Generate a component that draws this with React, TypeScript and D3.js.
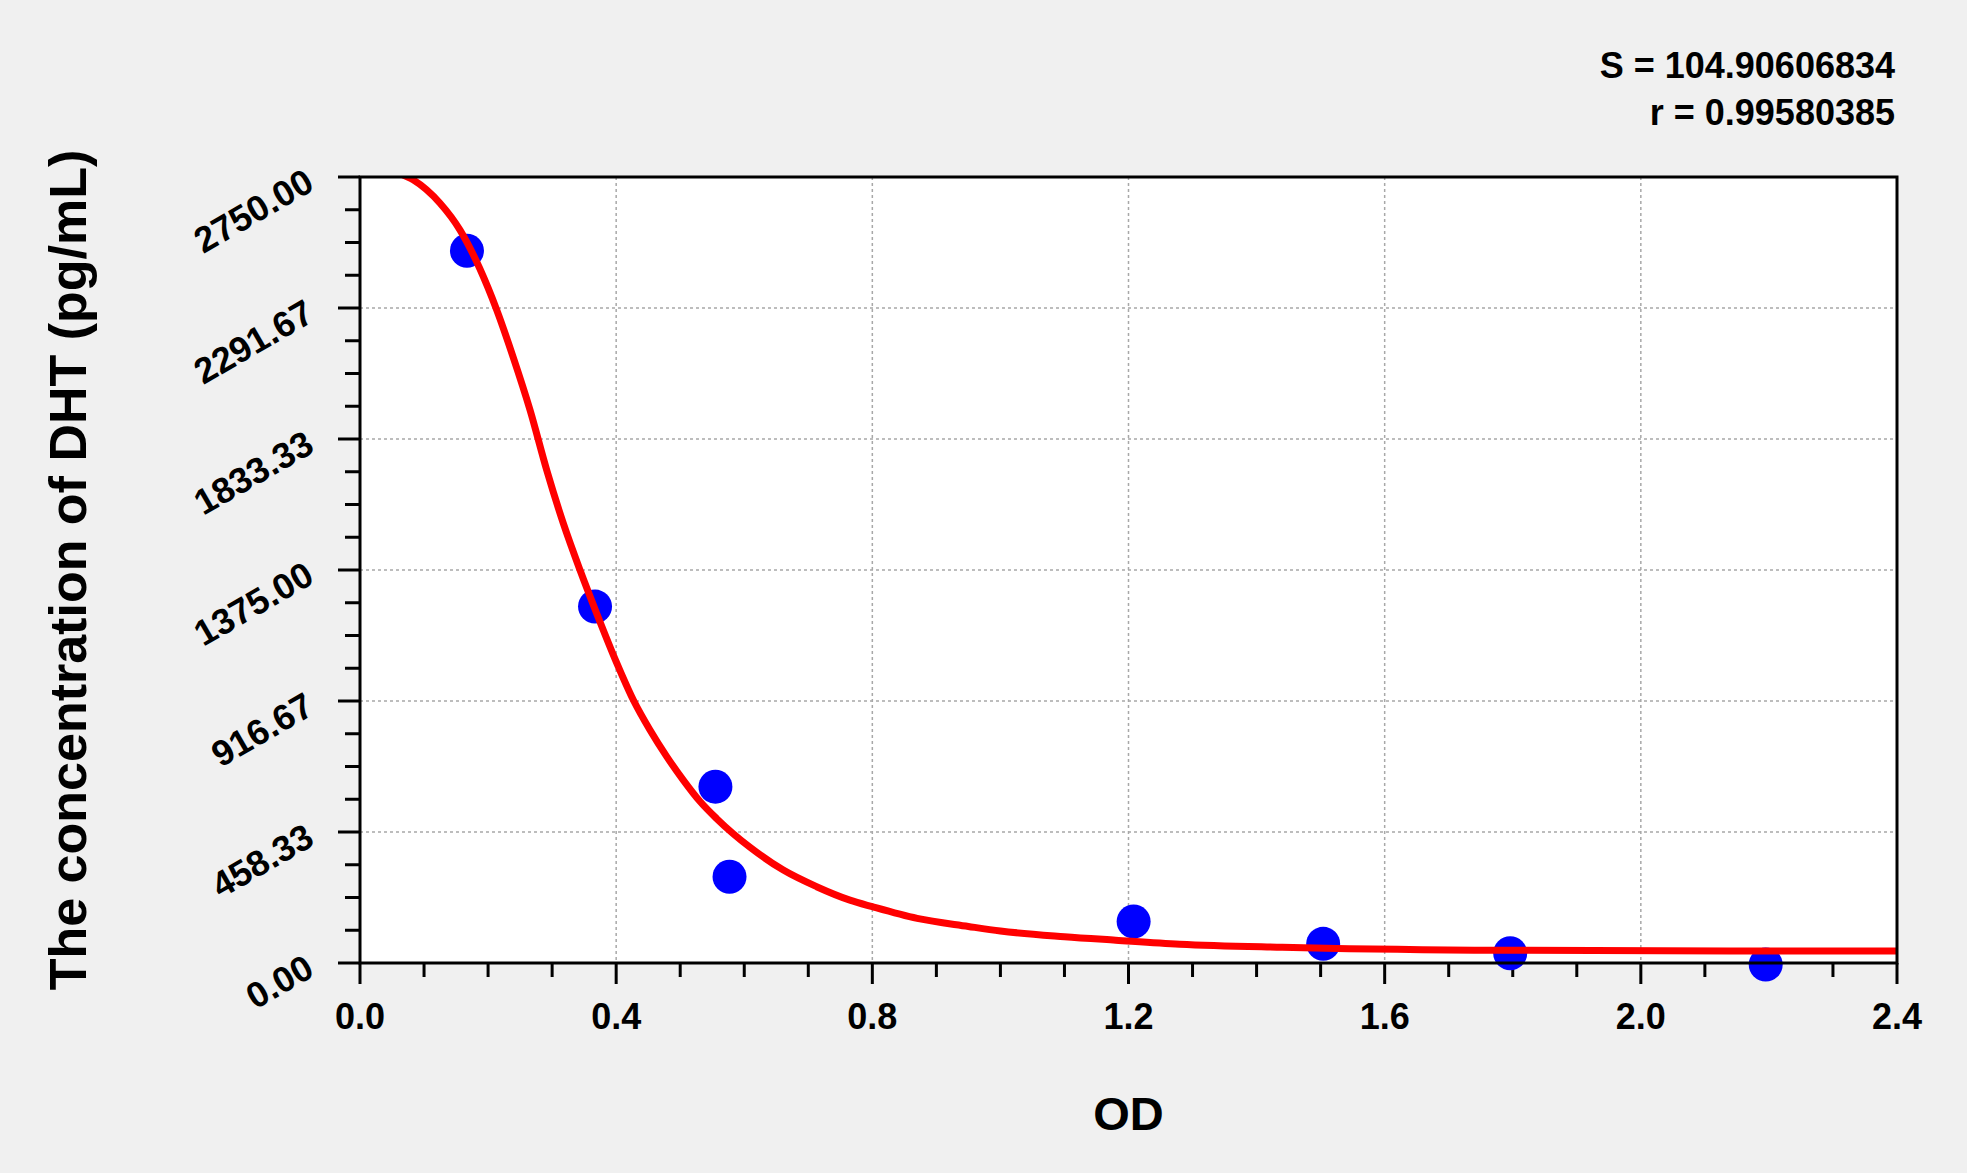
import React, { useEffect, useRef } from 'react';
import * as d3 from 'd3';

// Standard points (OD vs concentration)
const pointOD = [0.167, 0.367, 0.555, 0.577, 1.208, 1.504, 1.796, 2.195];
const pointConc = [2492, 1247, 617, 302, 145, 67, 34, -5];

// Fitted curve
const curveOD = [
  0.0625, 0.083, 0.125, 0.156, 0.187, 0.2135, 0.239, 0.2655, 0.2915, 0.3175,
  0.3435, 0.3696, 0.4008, 0.4268, 0.4528, 0.479, 0.5048, 0.531, 0.557, 0.583,
  0.609, 0.661, 0.713, 0.765, 0.8, 0.87, 0.95, 1.0, 1.1, 1.18, 1.28, 1.44,
  1.74, 2.14, 2.4,
];
const curveConc = [
  2762, 2740, 2658, 2565, 2430, 2285, 2121, 1935, 1725, 1538,
  1375, 1223, 1050, 920, 815, 722, 640, 565, 505, 452,
  405, 325, 267, 220, 197, 156, 128, 112, 92, 80, 66, 55,
  45, 42, 42,
];

const yTicks = [0, 458.33, 916.67, 1375, 1833.33, 2291.67, 2750];
const yTickLabels = ['0.00', '458.33', '916.67', '1375.00', '1833.33', '2291.67', '2750.00'];
const xTicks = [0, 0.4, 0.8, 1.2, 1.6, 2.0, 2.4];
const xTickLabels = ['0.0', '0.4', '0.8', '1.2', '1.6', '2.0', '2.4'];

const statLines = ['S = 104.90606834', 'r = 0.99580385'];

const W = 1967;
const H = 1173;
const plot = { left: 360, right: 1897, top: 177, bottom: 963 };
const font = '"Liberation Sans", Arial, sans-serif';

const App = () => {
  const svgRef = useRef<SVGSVGElement | null>(null);

  useEffect(() => {
    document.body.style.margin = '0';
    const svg = d3.select(svgRef.current);
    svg.selectAll('*').remove();

    const x = d3.scaleLinear().domain([0, 2.4]).range([plot.left, plot.right]);
    const y = d3.scaleLinear().domain([0, 2750]).range([plot.bottom, plot.top]);

    svg.append('rect').attr('width', W).attr('height', H).attr('fill', '#f0f0f0');
    svg
      .append('rect')
      .attr('x', plot.left)
      .attr('y', plot.top)
      .attr('width', plot.right - plot.left)
      .attr('height', plot.bottom - plot.top)
      .attr('fill', 'white');

    svg
      .append('defs')
      .append('clipPath')
      .attr('id', 'plotclip')
      .append('rect')
      .attr('x', plot.left)
      .attr('y', plot.top)
      .attr('width', plot.right - plot.left)
      .attr('height', plot.bottom - plot.top);

    // grid
    const grid = svg.append('g').attr('stroke', '#a8a8a8').attr('stroke-width', 1.5).attr('stroke-dasharray', '3,3');
    xTicks.slice(1, -1).forEach((t) => {
      grid.append('line').attr('x1', x(t)).attr('x2', x(t)).attr('y1', plot.top).attr('y2', plot.bottom);
    });
    yTicks.slice(1, -1).forEach((t) => {
      grid.append('line').attr('y1', y(t)).attr('y2', y(t)).attr('x1', plot.left).attr('x2', plot.right);
    });

    // minor + major ticks
    const ticks = svg.append('g').attr('stroke', 'black').attr('stroke-width', 3);
    const yStep = 2750 / 24;
    d3.range(0, 25).forEach((i) => {
      const len = i % 4 === 0 ? 22 : 15;
      const yy = y(i * yStep);
      ticks.append('line').attr('x1', plot.left - len).attr('x2', plot.left).attr('y1', yy).attr('y2', yy);
    });
    d3.range(0, 25).forEach((i) => {
      const len = i % 4 === 0 ? 21 : 14;
      const xx = x(i * 0.1);
      ticks.append('line').attr('x1', xx).attr('x2', xx).attr('y1', plot.bottom).attr('y2', plot.bottom + len);
    });

    // data points
    svg
      .append('g')
      .selectAll('circle')
      .data(pointOD)
      .enter()
      .append('circle')
      .attr('cx', (d) => x(d))
      .attr('cy', (d, i) => y(pointConc[i]))
      .attr('r', 17)
      .attr('fill', '#0000ff');

    // fitted curve
    const line = d3
      .line<number>()
      .x((d) => x(d))
      .y((d, i) => y(curveConc[i]))
      .curve(d3.curveMonotoneX);
    svg
      .append('path')
      .attr('d', line(curveOD))
      .attr('clip-path', 'url(#plotclip)')
      .attr('fill', 'none')
      .attr('stroke', '#ff0000')
      .attr('stroke-width', 7);

    // frame
    svg
      .append('rect')
      .attr('x', plot.left)
      .attr('y', plot.top)
      .attr('width', plot.right - plot.left)
      .attr('height', plot.bottom - plot.top)
      .attr('fill', 'none')
      .attr('stroke', 'black')
      .attr('stroke-width', 3);

    // tick labels
    const labels = svg
      .append('g')
      .style('font-family', font)
      .style('font-weight', 'bold')
      .style('font-size', '36px')
      .attr('fill', 'black');
    yTicks.forEach((t, i) => {
      const ax = plot.left - 44;
      const ay = y(t) + 12;
      labels
        .append('text')
        .attr('transform', `translate(${ax},${ay}) rotate(-30)`)
        .attr('text-anchor', 'end')
        .text(yTickLabels[i]);
    });
    xTicks.forEach((t, i) => {
      labels
        .append('text')
        .attr('x', x(t))
        .attr('y', plot.bottom + 66)
        .attr('text-anchor', 'middle')
        .text(xTickLabels[i]);
    });

    // stats top right
    statLines.forEach((s, i) => {
      labels
        .append('text')
        .attr('x', 1895)
        .attr('y', 78 + i * 47)
        .attr('text-anchor', 'end')
        .style('font-size', '36px')
        .text(s);
    });

    // axis titles
    svg
      .append('text')
      .attr('x', (plot.left + plot.right) / 2)
      .attr('y', 1130)
      .attr('text-anchor', 'middle')
      .style('font-family', font)
      .style('font-weight', 'bold')
      .style('font-size', '47px')
      .text('OD');
    svg
      .append('text')
      .attr('transform', `translate(86,570) rotate(-90)`)
      .attr('text-anchor', 'middle')
      .style('font-family', font)
      .style('font-weight', 'bold')
      .style('font-size', '52px')
      .text('The concentration of DHT (pg/mL)');
  }, []);

  return <svg ref={svgRef} width={W} height={H} style={{ display: 'block' }}></svg>;
};

export default App;
